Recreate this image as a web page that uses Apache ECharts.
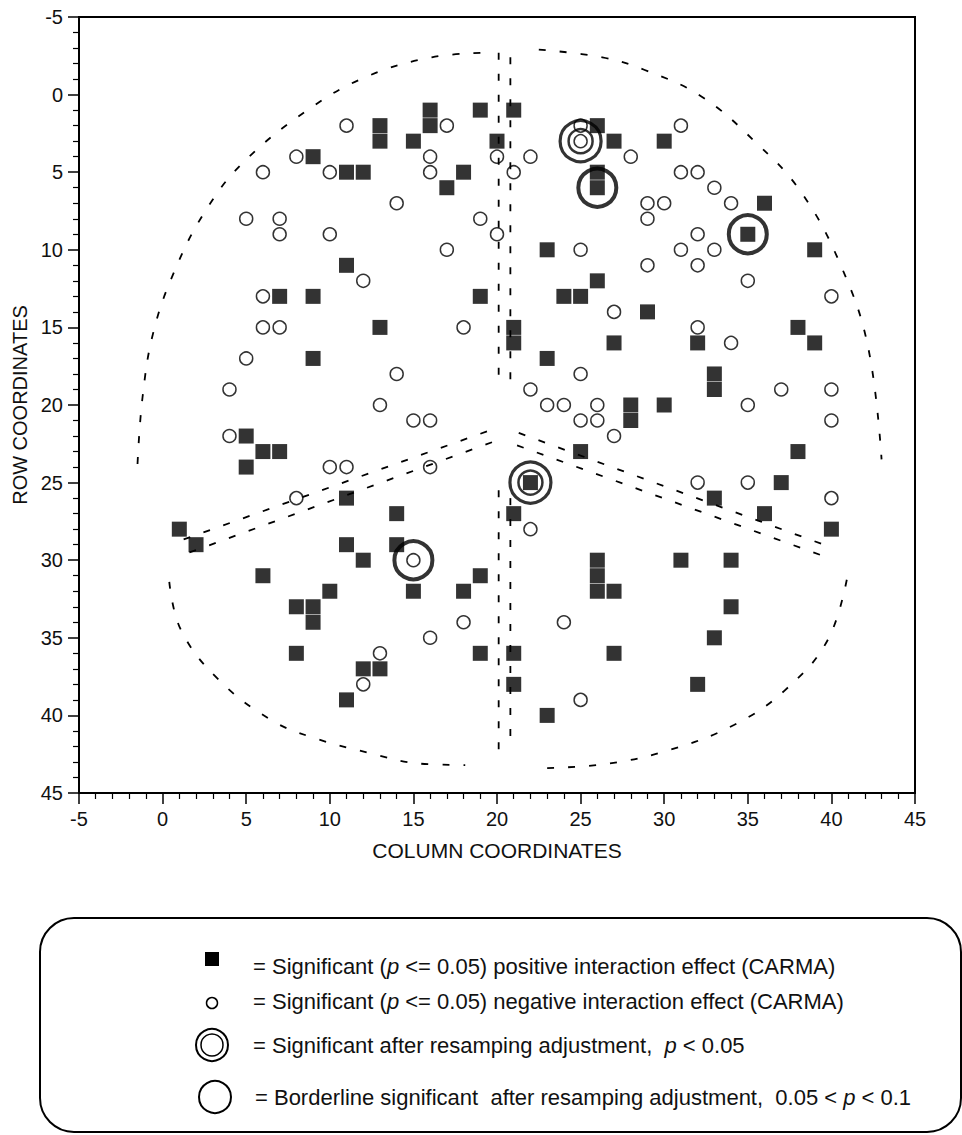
<!DOCTYPE html>
<html>
<head>
<meta charset="utf-8">
<title>CARMA interaction map</title>
<script src="https://cdn.jsdelivr.net/npm/echarts@6/dist/echarts.min.js"></script>
<style>
  html, body { margin: 0; padding: 0; background: #fff; }
  #chart { width: 962px; height: 1135px; }
</style>
</head>
<body>
<div id="chart"></div>
<script>
// cells with a significant positive effect (filled squares), [column, row]
const positiveCells = [
  [16, 1], [19, 1], [21, 1],
  [13, 2], [16, 2], [26, 2],
  [13, 3], [15, 3], [20, 3], [27, 3], [30, 3],
  [9, 4],
  [11, 5], [12, 5], [18, 5], [26, 5],
  [17, 6], [26, 6],
  [36, 7],
  [35, 9],
  [23, 10], [39, 10],
  [11, 11],
  [26, 12],
  [7, 13], [9, 13], [19, 13], [24, 13], [25, 13],
  [29, 14],
  [13, 15], [21, 15], [38, 15],
  [21, 16], [27, 16], [32, 16], [39, 16],
  [9, 17], [23, 17],
  [33, 18], [33, 19],
  [28, 20], [30, 20], [28, 21],
  [5, 22],
  [6, 23], [7, 23], [25, 23], [38, 23],
  [5, 24],
  [22, 25], [37, 25],
  [11, 26], [33, 26],
  [14, 27], [21, 27], [36, 27],
  [1, 28], [40, 28],
  [2, 29], [11, 29], [14, 29],
  [12, 30], [26, 30], [31, 30], [34, 30],
  [6, 31], [19, 31], [26, 31],
  [10, 32], [15, 32], [18, 32], [26, 32], [27, 32],
  [8, 33], [9, 33], [34, 33],
  [9, 34],
  [33, 35],
  [8, 36], [19, 36], [21, 36], [27, 36],
  [12, 37], [13, 37],
  [21, 38], [32, 38],
  [11, 39],
  [23, 40]
]

// cells with a significant negative effect (open circles)
const negativeCells = [
  [11, 2], [17, 2], [25, 2], [31, 2],
  [25, 3],
  [8, 4], [16, 4], [20, 4], [22, 4], [28, 4],
  [6, 5], [10, 5], [16, 5], [21, 5], [31, 5], [32, 5],
  [33, 6],
  [14, 7], [29, 7], [30, 7], [34, 7],
  [5, 8], [7, 8], [19, 8], [29, 8],
  [7, 9], [10, 9], [20, 9], [32, 9],
  [17, 10], [25, 10], [31, 10], [33, 10],
  [29, 11], [32, 11],
  [12, 12], [35, 12],
  [6, 13], [40, 13],
  [27, 14],
  [6, 15], [7, 15], [18, 15], [32, 15],
  [34, 16],
  [5, 17],
  [14, 18], [25, 18],
  [4, 19], [22, 19], [37, 19], [40, 19],
  [13, 20], [23, 20], [24, 20], [26, 20], [35, 20],
  [15, 21], [16, 21], [25, 21], [26, 21], [40, 21],
  [4, 22], [27, 22],
  [10, 24], [11, 24], [16, 24],
  [32, 25], [35, 25],
  [8, 26], [40, 26],
  [22, 28],
  [15, 30],
  [18, 34], [24, 34],
  [16, 35],
  [13, 36],
  [12, 38],
  [25, 39]
]

// significant after resampling (double ring) and borderline (single ring)
const significantCells = [[25, 3], [22, 25]]
const borderlineCells = [[26, 6], [35, 9], [15, 30]]

// dashed region outlines
const arcTopLeft = [[-1.5, 23.8], [-1.2, 19.5], [-0.55, 15.3], [0.7, 11.4], [2.5, 7.6], [4.8, 4.4], [8.8, 0.9], [12.3, -1.2], [16.1, -2.4], [19.4, -2.7]]
const arcTopRight = [[22.5, -2.9], [26.3, -2.4], [28.8, -1.6], [32.2, 0.1], [35.4, 3.0], [38.2, 6.3], [40.6, 11.1], [42.2, 16.3], [43.0, 23.5]]
const arcBottomLeft = [[0.4, 31.4], [1.1, 34.5], [3.35, 37.7], [6.5, 40.3], [8.9, 41.4], [12.3, 42.4], [15.3, 43.1], [18.1, 43.2]]
const arcBottomRight = [[23.0, 43.4], [26.7, 43.1], [30.4, 42.2], [34.2, 40.6], [37.2, 38.4], [39.8, 35.1], [41.0, 30.8]]
const dividers = [
  [[20.1, -2.7], [20.1, 18.6]],
  [[20.8, -2.4], [20.8, 18.4]],
  [[20.1, 25.5], [20.1, 42.4]],
  [[20.8, 26.0], [20.8, 42.2]],
  [[19.4, 21.7], [0.9, 28.8]],
  [[19.7, 22.4], [1.1, 29.7]],
  [[21.3, 21.8], [39.8, 29.1]],
  [[21.2, 22.6], [39.7, 29.8]]
]

const axisMin = -5
const axisMax = 45
const tickStep = 5

const legendLines = [
  '= Significant ({i|p} <= 0.05) positive interaction effect (CARMA)',
  '= Significant ({i|p} <= 0.05) negative interaction effect (CARMA)',
  '= Significant after resamping adjustment,  {i|p} < 0.05',
  '= Borderline significant  after resamping adjustment,  0.05 < {i|p} < 0.1'
]

const FONT = '"Liberation Sans", Arial, Helvetica, sans-serif'
const dash = [7, 14]

function guideSeries(points, smooth) {
  return {
    type: 'line',
    data: points,
    smooth: smooth ? 0.4 : false,
    symbol: 'none',
    silent: true,
    z: 1,
    lineStyle: { color: '#000', width: 1.8, type: dash }
  }
}

function valueAxis(extra) {
  return Object.assign({
    type: 'value',
    min: axisMin,
    max: axisMax,
    interval: tickStep,
    splitLine: { show: false },
    axisLine: { show: true, onZero: false, lineStyle: { color: '#000', width: 2 } },
    axisTick: { show: true, inside: false, length: 11, lineStyle: { color: '#000', width: 1.5 } },
    minorTick: { show: true, splitNumber: 5, length: 6, lineStyle: { color: '#000', width: 1.2 } },
    axisLabel: { color: '#111', fontSize: 20, fontFamily: FONT, margin: 16 },
    nameLocation: 'middle',
    nameTextStyle: { color: '#111', fontSize: 20, fontFamily: FONT }
  }, extra)
}

const legendY = [966, 1001, 1045, 1097]
const legendGraphics = [
  {
    type: 'rect',
    shape: { x: 40, y: 918, width: 921, height: 214, r: 34 },
    style: { fill: 'none', stroke: '#000', lineWidth: 2 }
  },
  {
    type: 'rect',
    shape: { x: 205, y: 952, width: 14, height: 14 },
    style: { fill: '#000' }
  },
  {
    type: 'circle',
    shape: { cx: 212, cy: 1003, r: 5.5 },
    style: { fill: 'none', stroke: '#000', lineWidth: 1.5 }
  },
  {
    type: 'circle',
    shape: { cx: 212, cy: 1045, r: 16 },
    style: { fill: 'none', stroke: '#000', lineWidth: 2 }
  },
  {
    type: 'circle',
    shape: { cx: 212, cy: 1045, r: 11 },
    style: { fill: 'none', stroke: '#000', lineWidth: 1.5 }
  },
  {
    type: 'circle',
    shape: { cx: 215, cy: 1097, r: 16 },
    style: { fill: 'none', stroke: '#000', lineWidth: 2 }
  }
].concat(legendLines.map((line, i) => ({
  type: 'text',
  x: i === 3 ? 255 : 253,
  y: legendY[i],
  style: {
    text: line,
    fill: '#111',
    font: '22px ' + FONT,
    verticalAlign: 'middle',
    rich: { i: { fontStyle: 'italic', fontSize: 22, fontFamily: FONT, fill: '#111' } }
  }
})))

const chart = echarts.init(document.getElementById('chart'), null, { renderer: 'svg' })

chart.setOption({
  animation: false,
  backgroundColor: '#fff',
  grid: {
    left: 79, right: 47, top: 17, bottom: 342,
    show: true, borderColor: '#000', borderWidth: 2, backgroundColor: 'transparent'
  },
  xAxis: valueAxis({ name: 'COLUMN COORDINATES', nameGap: 47, nameTextStyle: { color: '#111', fontSize: 21, fontFamily: FONT } }),
  yAxis: valueAxis({ name: 'ROW COORDINATES', nameGap: 46, inverse: true }),
  graphic: legendGraphics,
  series: [
    guideSeries(arcTopLeft, true),
    guideSeries(arcTopRight, true),
    guideSeries(arcBottomLeft, true),
    guideSeries(arcBottomRight, true)
  ].concat(dividers.map(d => guideSeries(d, false))).concat([
    {
      name: 'significant outer',
      type: 'scatter',
      data: significantCells,
      symbol: 'circle',
      symbolSize: 41,
      z: 3,
      itemStyle: { color: 'rgba(255,255,255,0)', borderColor: '#000', borderWidth: 3.2 }
    },
    {
      name: 'significant inner',
      type: 'scatter',
      data: significantCells,
      symbol: 'circle',
      symbolSize: 24,
      z: 3,
      itemStyle: { color: 'rgba(255,255,255,0)', borderColor: '#000', borderWidth: 2.5 }
    },
    {
      name: 'borderline',
      type: 'scatter',
      data: borderlineCells,
      symbol: 'circle',
      symbolSize: 38,
      z: 3,
      itemStyle: { color: 'rgba(255,255,255,0)', borderColor: '#000', borderWidth: 4 }
    },
    {
      name: 'negative',
      type: 'scatter',
      data: negativeCells,
      symbol: 'circle',
      symbolSize: 13,
      z: 4,
      itemStyle: { color: 'rgba(255,255,255,0)', borderColor: '#000', borderWidth: 1.5 }
    },
    {
      name: 'positive',
      type: 'scatter',
      data: positiveCells,
      symbol: 'rect',
      symbolSize: 15,
      z: 5,
      itemStyle: { color: '#000' }
    }
  ])
})

window.addEventListener('resize', () => chart.resize())
</script>
</body>
</html>
